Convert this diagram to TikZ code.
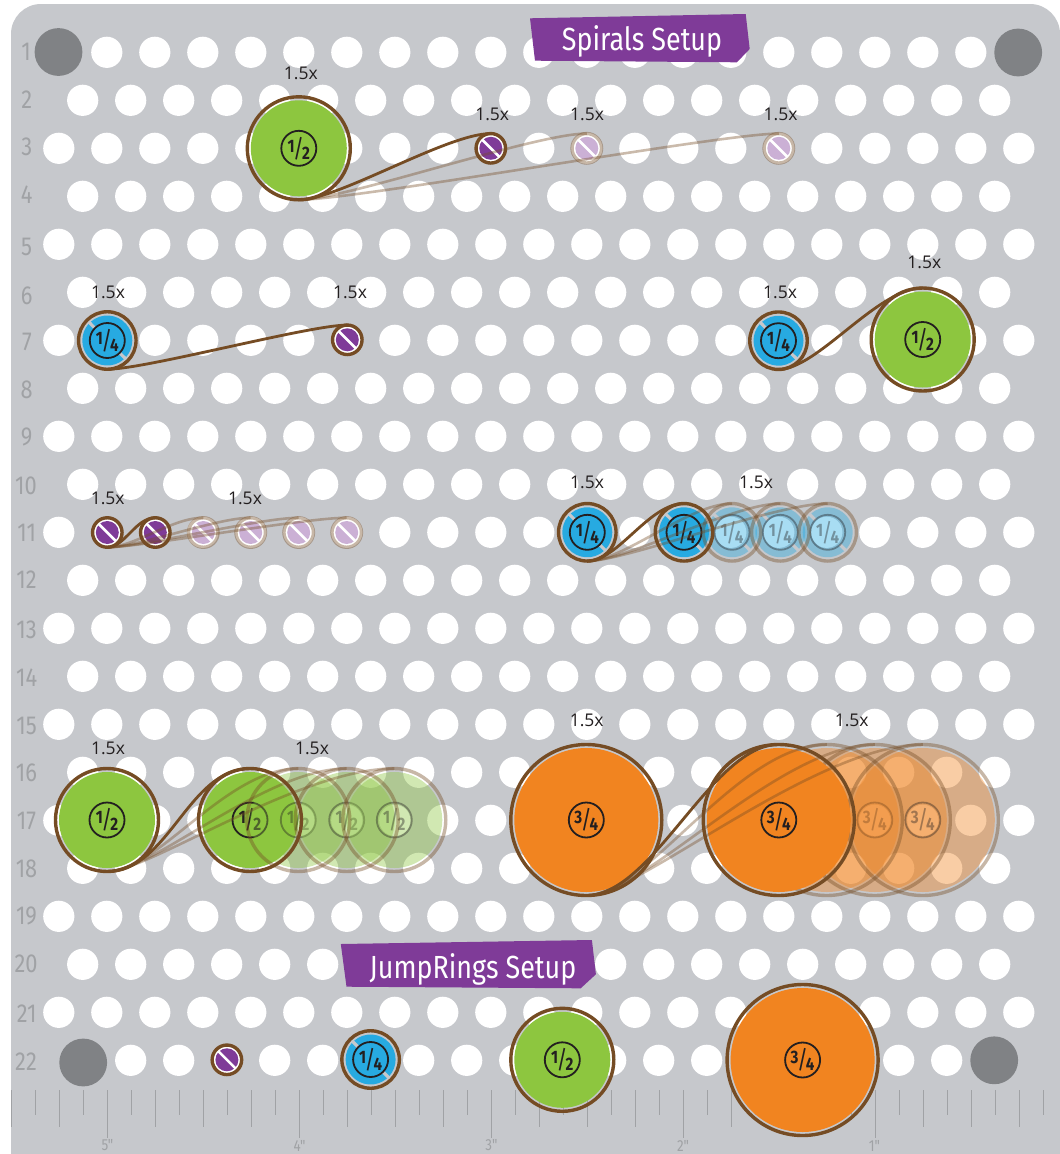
\documentclass[tikz,border=0pt]{standalone}
\usepackage{fontspec}
\setmainfont{Open Sans}
\newfontfamily\labfont[FakeStretch=0.84]{Fira Sans}
\definecolor{plate}{HTML}{C6C8CC}
\definecolor{peg}{HTML}{808285}
\definecolor{tickgray}{HTML}{A0A2A5}
\definecolor{wirebrown}{HTML}{754C24}
\definecolor{grn}{HTML}{8DC63F}
\definecolor{org}{HTML}{F18420}
\definecolor{blu}{HTML}{27AAE1}
\definecolor{pur}{HTML}{7F3B98}
\definecolor{ink}{HTML}{231F20}
\tikzset{
  x=1pt,y=-1pt,
  hole/.style={fill=white},
  pegdisc/.style={fill=peg},
  tick/.style={tickgray,line width=1.8pt},
  anchorbox/.style={circle,inner sep=0pt,outer sep=0pt,minimum size=#1},
  ringnode/.style={circle,inner sep=0pt,outer sep=0pt,draw=wirebrown,line width=3.4pt,minimum size=#1},
  ringfaint/.style={ringnode=#1,opacity=.4},
  wire/.style={wirebrown,line width=2.8pt,line cap=round},
  wirefaint/.style={wirebrown,line width=2.6pt,opacity=.38},
  inchip/.style={circle,inner sep=0pt,outer sep=0pt,draw=ink,line width=1.8pt,minimum size=35pt,text=ink},
  rowlabel/.style={text=tickgray,inner sep=0pt,font=\labfont\fontsize{26}{26}\selectfont},
  inchlabel/.style={text=tickgray,inner sep=0pt,font=\labfont\fontsize{16}{16}\selectfont},
  xlabel/.style={text=ink,inner sep=0pt,font=\fontsize{17.5}{17.5}\selectfont},
  banner/.style={fill=pur},
  bannertext/.style={text=white,inner sep=0pt,anchor=base,font=\labfont\fontsize{32}{32}\selectfont},
}
\newcommand\fr[2]{{\labfont\bfseries\fontsize{18}{18}\selectfont\raisebox{3.5pt}{#1}\kern-1.5pt\raisebox{-1.5pt}{\fontsize{25}{25}\mdseries/}\kern-2pt\raisebox{-3.5pt}{#2}}}
% name, x, y, opacity
\newcommand\pieceP[4]{%
  \node[anchorbox=29.5pt] (#1) at (#2,#3) {};
  \fill[pur,opacity=#4] (#2,#3) circle[radius=11.5];
  \draw[white,line width=2.6pt] (#2-8.6,#3-8.6) -- (#2+8.6,#3+8.6);
}
\newcommand\pieceB[4]{%
  \node[anchorbox=57.5pt] (#1) at (#2,#3) {};
  \fill[blu,opacity=#4] ([shift={(49:25)}]#2,#3) arc[start angle=49,end angle=221,radius=25] -- ([shift={(219.4:17.5)}]#2,#3) arc[start angle=219.4,end angle=50.6,radius=17.5] -- cycle;
  \fill[blu,opacity=#4] ([shift={(229:25)}]#2,#3) arc[start angle=229,end angle=401,radius=25] -- ([shift={(399.4:17.5)}]#2,#3) arc[start angle=399.4,end angle=230.6,radius=17.5] -- cycle;
  \node[inchip,fill=blu,opacity=#4] (#1-chip) at (#2,#3) {\fr{1}{4}};
}
\newcommand\pieceG[4]{%
  \node[anchorbox=103pt] (#1) at (#2,#3) {};
  \fill[grn,opacity=#4] (#2,#3) circle[radius=48];
  \node[inchip,opacity=#4] (#1-chip) at (#2,#3) {\fr{1}{2}};
}
\newcommand\pieceO[4]{%
  \node[anchorbox=151pt] (#1) at (#2,#3) {};
  \fill[org,opacity=#4] (#2,#3) circle[radius=72];
  \node[inchip,opacity=#4] (#1-chip) at (#2,#3) {\fr{3}{4}};
}
\newcommand\ringS[2]{\node[ringnode=#2] (#1-ring) at (#1.center) {};}
\newcommand\ringF[2]{\node[ringfaint=#2] (#1-ring) at (#1.center) {};}
\begin{document}
\begin{tikzpicture}
\useasboundingbox (0,0) rectangle (1060,1154);
\fill[white] (0,0) rectangle (1060,1154);
\fill[plate] (11,1154) [rounded corners=30pt] -- (11,4) -- (1060,4) [sharp corners] -- (1060,1154) -- cycle;
% holes
\foreach \r in {1,3,...,21}{\foreach \k in {0,...,20}{
  \pgfmathsetmacro\hx{58.8+48*\k}
  \pgfmathsetmacro\hy{52.3+48*(\r-1)}
  \fill[hole] (\hx,\hy) circle[radius=15.6];}}
\foreach \r in {2,4,...,22}{\foreach \k in {0,...,19}{
  \pgfmathsetmacro\hx{82.7+48*\k}
  \pgfmathsetmacro\hy{52.3+48*(\r-1)}
  \fill[hole] (\hx,\hy) circle[radius=15.6];}}
\fill[pegdisc] (58.5,52) circle[radius=23.9];
\fill[pegdisc] (1018.2,52.5) circle[radius=23.9];
\fill[pegdisc] (83.2,1062.5) circle[radius=23.9];
\fill[pegdisc] (994.2,1060.3) circle[radius=23.9];
% ruler
\foreach \n in {1,3,...,43}{
  \pgfmathsetmacro\tx{11.5+24*\n}
  \draw[tick] (\tx,1090) -- (\tx,1114.5);}
\foreach \n in {0,2,...,42}{
  \pgfmathsetmacro\tx{11.5+24*\n}
  \draw[tick] (\tx,1090) -- (\tx,1126.5);}
\foreach \n in {4,12,20,28,36}{
  \pgfmathsetmacro\tx{11.5+24*\n}
  \draw[tick] (\tx,1090) -- (\tx,1138);}
\node[inchlabel] (in5) at (107.5,1145.5) {5"};
\node[inchlabel] (in4) at (299.5,1145.5) {4"};
\node[inchlabel] (in3) at (491.5,1145.5) {3"};
\node[inchlabel] (in2) at (683,1145.5) {2"};
\node[inchlabel] (in1) at (874.5,1145.5) {1"};
% row labels
\foreach \n/\lx/\ly in {1/26/52,2/26.7/100,3/26.7/147,4/26.7/195,5/26.7/246.5,6/26.7/295.5,7/27/342,8/26.7/390,9/26.7/437,10/26/485.5,11/26.7/532.5,12/26.5/580,13/26.5/630,14/26.7/678,15/26.5/725.5,16/26.5/773,17/26.5/821,18/26.5/868.5,19/26.5/916,20/26/964,21/26.7/1014,22/26/1061.5}
  \node[rowlabel] (row\n) at (\lx,\ly) {\n};
% banners
\fill[banner] (530,18.3) -- (745.7,14) -- (749.7,49) -- (736.9,62.3) -- (535,60.7) -- cycle;
\fill[banner] (340.8,944) -- (591.9,940) -- (595.9,974.3) -- (580.7,988.3) -- (346.5,986.7) -- cycle;
\node[bannertext] (t-spirals) at (642,50.7) {Spirals Setup};
\node[bannertext] (t-jump) at (473,978.5) {JumpRings Setup};
% faint orange, beneath solid pieces
\pieceO{o3}{826.8}{820}{.4}
\pieceO{o4}{874.8}{820}{.4}
\pieceO{o5}{922.8}{820}{.4}
\ringF{o3}{151pt}\ringF{o4}{151pt}\ringF{o5}{151pt}
% solid pieces
\pieceG{g1}{298.8}{148.3}{1}
\pieceP{p1}{490.8}{148.3}{1}
\pieceB{b1}{107.3}{340.5}{1}
\pieceP{p2}{347.3}{339.8}{1}
\pieceB{b2}{778.5}{340.7}{1}
\pieceG{g2}{922.7}{339.5}{1}
\pieceP{p3}{107.3}{532.5}{1}
\pieceP{p4}{155.3}{532.5}{1}
\pieceB{b3}{587.3}{532.3}{1}
\pieceB{b4}{684}{532.3}{1}
\pieceG{g3}{107}{820}{1}
\pieceG{g4}{250}{820}{1}
\pieceO{o1}{586.3}{820}{1}
\pieceO{o2}{778.8}{820}{1}
\pieceP{p5}{226.9}{1059.8}{1}
\pieceB{b5}{370.6}{1059.5}{1}
\pieceG{g5}{562.3}{1059.8}{1}
\pieceO{o6}{802.6}{1060}{1}
% faint pieces
\pieceP{p1a}{586.8}{148.3}{.4}
\pieceP{p1b}{778.8}{148.3}{.4}
\pieceP{p4a}{203.3}{532.5}{.4}
\pieceP{p4b}{250.7}{532.5}{.4}
\pieceP{p4c}{298.7}{532.5}{.4}
\pieceP{p4d}{346.7}{532.5}{.4}
\pieceB{b4a}{732}{532.3}{.4}
\pieceB{b4b}{780.3}{532.3}{.4}
\pieceB{b4c}{827.7}{532.3}{.4}
\pieceG{g4a}{298.3}{820}{.4}
\pieceG{g4b}{346.7}{820}{.4}
\pieceG{g4c}{394.3}{820}{.4}
\ringF{p1a}{29.5pt}\ringF{p1b}{29.5pt}
\ringF{p4a}{29.5pt}\ringF{p4b}{29.5pt}\ringF{p4c}{29.5pt}\ringF{p4d}{29.5pt}
\ringF{b4a}{57.5pt}\ringF{b4b}{57.5pt}\ringF{b4c}{57.5pt}
\ringF{g4a}{103pt}\ringF{g4b}{103pt}\ringF{g4c}{103pt}
% faint wires
\foreach \a/\b/\lo/\li in {g1/p1a/.4/.45,g1/p1b/.3/.3,p3/p4a/.7/.8,p3/p4b/.55/.6,p3/p4c/.45/.5,p3/p4d/.35/.45,b3/b4a/.6/.7,b3/b4b/.5/.6,b3/b4c/.4/.55,g3/g4a/.6/.85,g3/g4b/.45/.8,g3/g4c/.35/.8,o1/o3/.55/.8,o1/o4/.45/.75,o1/o5/.35/.75}
  \draw[wirefaint] (\a.south) to[out=0,in=180,out looseness=\lo,in looseness=\li] (\b.north);
% solid rings and wires
\ringS{g1}{103pt}\ringS{p1}{29.5pt}\ringS{b1}{57.5pt}\ringS{p2}{29.5pt}
\ringS{b2}{57.5pt}\ringS{g2}{103pt}\ringS{p3}{29.5pt}\ringS{p4}{29.5pt}
\ringS{b3}{57.5pt}\ringS{b4}{57.5pt}\ringS{g3}{103pt}\ringS{g4}{103pt}
\ringS{o1}{151pt}\ringS{o2}{151pt}
\ringS{p5}{29.5pt}\ringS{b5}{57.5pt}\ringS{g5}{103pt}\ringS{o6}{151pt}
\foreach \a/\b/\lo/\li in {g1/p1/.5/.55,b1/p2/.4/.4,b2/g2/.6/.7,p3/p4/.8/.9,b3/b4/.7/.8,g3/g4/.9/.9,o1/o2/.7/.7}
  \draw[wire] (\a.south) to[out=0,in=180,out looseness=\lo,in looseness=\li] (\b.north);
% 1.5x labels
\foreach \n/\lx/\ly in {a/300.9/73,b/492.2/114,c/587.1/114,d/780.5/114,e/108/292.5,f/350/292.5,h/780/292.5,i/924.3/262.3,j/107.7/498,k/245/498,l/587/482,m/756/482,n/108/748,o/312/748,q/586.7/720.7,r/851.7/720.7}
  \node[xlabel] (x\n) at (\lx,\ly) {1.5x};
\end{tikzpicture}
\end{document}
